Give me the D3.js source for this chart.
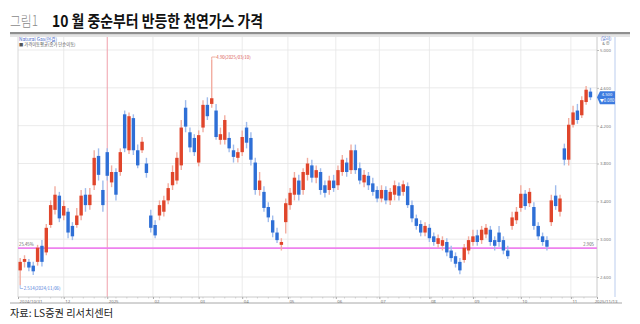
<!DOCTYPE html>
<html><head><meta charset="utf-8">
<script src="https://cdn.jsdelivr.net/npm/d3@7"></script>
<style>body{margin:0;background:#fff;}svg{display:block;font-family:"Noto Sans CJK KR","Noto Sans",sans-serif;}</style>
</head><body><svg id="c" width="640" height="324"></svg>
<script>
// Natural gas candles (one candle per 2 trading days, from 2024/10/31)
const opens=[2.67,2.76,2.76,2.72,2.76,2.93,2.86,3.15,3.31,3.46,
3.25,3.29,3.14,3.15,3.25,3.47,3.36,3.57,3.88,3.52,
3.92,3.60,3.71,3.71,4.32,3.94,4.28,3.94,3.94,3.80,
3.25,3.15,3.25,3.29,3.41,3.57,3.62,3.78,4.39,4.13,
4.07,3.81,4.18,4.42,4.43,4.36,4.05,4.05,4.07,3.94,
3.86,3.92,4.18,4.07,3.81,3.52,3.50,3.34,3.20,3.07,
2.94,3.18,3.36,3.47,3.62,3.52,3.68,3.78,3.65,3.71,
3.57,3.52,3.62,3.57,3.71,3.81,3.73,3.94,3.75,3.60,
3.67,3.59,3.52,3.43,3.52,3.41,3.47,3.56,3.50,3.56,
3.36,3.22,3.16,3.07,3.12,3.03,2.95,2.93,2.97,2.88,
2.82,2.76,2.78,2.88,2.97,3.04,2.99,3.05,3.10,2.99,
3.07,2.99,2.88,3.14,3.20,3.33,3.48,3.38,3.34,3.14,
3.03,2.99,3.18,3.46,3.29,3.96,3.84,4.21,4.36,4.31,
4.45,4.56];
const closes=[2.76,2.79,2.70,2.66,2.91,2.76,3.12,3.36,3.47,3.22,
3.35,3.07,3.03,3.25,3.46,3.36,3.47,3.86,3.68,3.36,
3.67,3.71,3.47,3.92,3.96,4.30,3.94,3.78,4.03,3.70,
3.12,3.04,3.36,3.41,3.54,3.71,3.86,4.18,4.19,3.97,
3.92,4.10,4.42,4.30,4.49,4.08,4.11,4.26,3.96,3.87,
3.92,4.08,4.02,3.84,3.52,3.62,3.33,3.23,3.07,2.99,
2.97,3.38,3.49,3.65,3.47,3.71,3.80,3.65,3.73,3.52,
3.49,3.62,3.54,3.73,3.84,3.71,3.94,3.73,3.62,3.68,
3.57,3.50,3.43,3.52,3.41,3.50,3.57,3.46,3.58,3.36,
3.22,3.14,3.07,3.14,3.01,2.97,3.01,2.99,2.86,2.80,
2.74,2.67,2.91,2.99,3.03,2.97,3.10,3.12,2.97,2.93,
2.97,2.88,2.82,3.23,3.29,3.48,3.35,3.50,3.14,3.03,
2.97,2.92,3.41,3.35,3.43,3.84,4.21,4.34,4.26,4.47,
4.58,4.50];
const highs=[2.80,2.83,2.79,2.76,2.94,2.99,3.16,3.41,3.56,3.50,
3.41,3.33,3.18,3.33,3.52,3.54,3.54,3.94,3.96,3.62,
3.96,3.78,3.75,3.96,4.36,4.34,4.32,4.00,4.08,3.86,
3.31,3.20,3.41,3.46,3.59,3.78,3.92,4.26,4.47,4.18,
4.11,4.15,4.47,4.50,4.90,4.43,4.18,4.31,4.13,4.00,
3.96,4.15,4.24,4.13,3.86,3.71,3.56,3.39,3.25,3.12,
3.01,3.43,3.54,3.71,3.68,3.75,3.86,3.84,3.78,3.75,
3.62,3.67,3.68,3.78,3.89,3.86,4.00,4.00,3.81,3.73,
3.71,3.65,3.56,3.57,3.56,3.54,3.62,3.60,3.62,3.60,
3.41,3.26,3.20,3.18,3.16,3.07,3.05,3.03,3.01,2.93,
2.86,2.80,2.95,3.03,3.10,3.10,3.14,3.16,3.14,3.03,
3.14,3.03,2.93,3.29,3.34,3.57,3.52,3.54,3.39,3.18,
3.07,3.03,3.47,3.57,3.47,4.01,4.28,4.41,4.43,4.51,
4.62,4.60];
const lows=[2.514,2.70,2.66,2.62,2.72,2.71,2.83,3.12,3.26,3.18,
3.20,3.01,2.99,3.12,3.20,3.29,3.31,3.52,3.62,3.29,
3.62,3.55,3.41,3.67,3.92,3.90,3.89,3.75,3.91,3.65,
3.07,3.01,3.20,3.24,3.37,3.52,3.58,3.73,4.13,3.92,
3.88,3.77,4.13,4.26,4.39,4.05,4.00,4.00,3.92,3.81,
3.81,3.88,3.96,3.78,3.47,3.46,3.29,3.18,3.02,2.96,
2.88,3.06,3.31,3.41,3.41,3.47,3.62,3.60,3.59,3.47,
3.44,3.47,3.50,3.52,3.67,3.66,3.69,3.69,3.58,3.55,
3.52,3.46,3.39,3.39,3.37,3.36,3.41,3.41,3.46,3.33,
3.18,3.10,3.03,3.03,2.97,2.93,2.91,2.88,2.82,2.76,
2.70,2.63,2.75,2.84,2.93,2.93,2.95,3.01,2.93,2.88,
2.92,2.84,2.79,3.10,3.16,3.29,3.31,3.34,3.10,2.99,
2.93,2.88,3.14,3.31,3.24,3.78,3.78,4.18,4.22,4.28,
4.42,4.47];
const dayStep=2;
const tickDays=[-1,20,40,61,82,102,123,145,165,188,208,230,253,265];
const tickLabels=["2024/10/31","12","2025","02","03","04","05","06","07","08","09","10","11","2025/11/13"];
const yTicks=[2.6,3.0,3.4,3.8,4.2,4.6,5.0];
const refLevel=2.905, refPct="25.45%";
const highIdx=44, highLabel="4.90(2025/03/10)";
const lowIdx=0, lowLabel="2.514(2024/11/06)";

const svg=d3.select("#c");
const L=18,R=597,T=37,B=297;
const x=d3.scaleLinear().domain([-1,265]).range([L,R]);
const y=d3.scaleLinear().domain([2.6,5.0]).range([277,50]);
const RED="#e0452b",BLUE="#2e6fd6",RED2="#f2ada0",BLUE2="#a0bcec";

// title
svg.append("text").attr("x",10).attr("y",26).attr("font-size",14).attr("font-weight",300)
 .attr("fill","#8a8a8a").attr("textLength",28).attr("lengthAdjust","spacingAndGlyphs").text("그림1");
svg.append("text").attr("x",52).attr("y",27).attr("font-size",16).attr("font-weight",700)
 .attr("fill","#111").attr("textLength",211).attr("lengthAdjust","spacingAndGlyphs").text("10 월 중순부터 반등한 천연가스 가격");
svg.append("rect").attr("x",10).attr("y",32).attr("width",620).attr("height",2.5).attr("fill","#8f8f8f");
svg.append("rect").attr("x",10).attr("y",34.5).attr("width",620).attr("height",2.5).attr("fill","#e4e4e4");

// grid
const g=svg.append("g");
g.selectAll(".hg").data(yTicks).join("line").attr("x1",L).attr("x2",R)
 .attr("y1",d=>y(d)).attr("y2",d=>y(d)).attr("stroke","#e6e6e6").attr("stroke-width",0.8);
g.selectAll(".vg").data(tickDays.slice(1,-1)).join("line").attr("y1",T).attr("y2",B)
 .attr("x1",d=>x(d)).attr("x2",d=>x(d)).attr("stroke",(d,i)=>i===1?"#f0a0ac":"#e6e6e6").attr("stroke-width",(d,i)=>i===1?1:0.8);

// frame lines
svg.append("line").attr("x1",L).attr("x2",L).attr("y1",T).attr("y2",B).attr("stroke","#cfcfcf").attr("stroke-width",0.8);
svg.append("line").attr("x1",R).attr("x2",R).attr("y1",T).attr("y2",B).attr("stroke","#bdbdbd").attr("stroke-width",0.8);
svg.append("line").attr("x1",615).attr("x2",615).attr("y1",T).attr("y2",B).attr("stroke","#a9c0ea").attr("stroke-width",0.8);
svg.append("line").attr("x1",L).attr("x2",R).attr("y1",B).attr("y2",B).attr("stroke","#bdbdbd").attr("stroke-width",0.8);
svg.append("line").attr("x1",10).attr("x2",622).attr("y1",303).attr("y2",303).attr("stroke","#a8a8a8").attr("stroke-width",1);

// header
svg.append("text").attr("x",19).attr("y",40.8).attr("font-size",4.8).attr("fill","#3f67c9").text("Natural Gas(연결)");
svg.append("text").attr("x",19).attr("y",45.8).attr("font-size",4.3).attr("fill","#555").text("■ 가격이동평균(종가 단순이동)");
svg.append("text").attr("x",606).attr("y",40).attr("font-size",4.3).attr("fill","#3f67c9").attr("text-anchor","middle").text("(달러)");
svg.append("text").attr("x",606).attr("y",45).attr("font-size",4).attr("fill","#666").attr("text-anchor","middle").text("& ⊕");

// reference level
svg.append("line").attr("x1",L).attr("x2",R).attr("y1",y(refLevel)).attr("y2",y(refLevel)).attr("stroke","#ee82ee").attr("stroke-width",1.6);
svg.append("text").attr("x",19).attr("y",y(refLevel)-2.5).attr("font-size",4.3).attr("fill","#666").text(refPct);
svg.append("text").attr("x",594).attr("y",y(refLevel)-2).attr("font-size",4.3).attr("fill","#666").attr("text-anchor","end").text(d3.format(".3f")(refLevel));

// candles
const data=opens.map((o,i)=>({i,o,c:closes[i],h:highs[i],l:lows[i],d:i*dayStep}));
const cg=svg.append("g");
cg.selectAll(".w").data(data).join("line").attr("x1",d=>x(d.d)).attr("x2",d=>x(d.d))
 .attr("y1",d=>y(d.h)).attr("y2",d=>y(d.l)).attr("stroke",d=>d.c>=d.o?RED2:BLUE2).attr("stroke-width",1.4);
cg.selectAll(".b").data(data).join("rect").attr("x",d=>x(d.d)-1.7).attr("width",3.4)
 .attr("y",d=>y(Math.max(d.o,d.c))).attr("height",d=>Math.max(1,Math.abs(y(d.o)-y(d.c))))
 .attr("fill",d=>d.c>=d.o?RED:BLUE);

// high / low annotations
const hx=x(data[highIdx].d);
svg.append("path").attr("d",`M${hx},${y(highs[highIdx])}V57H${hx+4}`).attr("fill","none").attr("stroke","#eb9a8c").attr("stroke-width",0.8);
svg.append("text").attr("x",hx+4.5).attr("y",58.6).attr("font-size",4.4).attr("fill","#d9534f").text(highLabel);
const lx=x(data[lowIdx].d);
svg.append("path").attr("d",`M${lx},${y(lows[lowIdx])}V288.5H${lx+3}`).attr("fill","none").attr("stroke","#8fb0e8").attr("stroke-width",0.8);
svg.append("text").attr("x",lx+3.5).attr("y",290).attr("font-size",4.4).attr("fill","#4a78d8").text(lowLabel);

// right axis
const ya=svg.append("g").attr("transform",`translate(${R},0)`)
 .call(d3.axisRight(y).tickValues(yTicks).tickSize(2).tickFormat(d3.format(".3f")));
ya.select(".domain").remove();
ya.selectAll("line").attr("stroke","#bbb");
ya.selectAll("text").attr("font-size",4.3).attr("fill","#777").attr("font-family","Noto Sans").attr("x",3);

// bottom axis
const xa=svg.append("g").attr("transform",`translate(0,${B})`)
 .call(d3.axisBottom(x).tickValues(tickDays).tickSize(2).tickFormat((d,i)=>tickLabels[i]));
xa.select(".domain").remove();
xa.selectAll("line").attr("stroke","#aaa");
xa.selectAll("text").attr("font-size",4.3).attr("fill","#777").attr("font-family","Noto Sans")
 .attr("text-anchor",(d,i)=>i===tickDays.length-1?"end":"start").attr("dx",(d,i)=>i===tickDays.length-1?20:1).attr("y",2.5).attr("dy","0.71em");
svg.append("g").selectAll("line").data(d3.range(4,262,5)).join("line")
 .attr("x1",d=>x(d)).attr("x2",d=>x(d)).attr("y1",B).attr("y2",B+1.5).attr("stroke","#bbb").attr("stroke-width",0.6);

// current price tag
const last=closes[closes.length-1], prev=closes[closes.length-2];
const ty=y(last);
svg.append("path").attr("d",`M${R},${ty}L${R+3},${ty-6}H615V${ty+7}H${R+3}Z`).attr("fill","#3d7be0");
svg.append("text").attr("x",607).attr("y",ty-1).attr("font-size",4.2).attr("fill","#fff").attr("text-anchor","middle").text(d3.format(".3f")(last));
svg.append("text").attr("x",607).attr("y",ty+4.5).attr("font-size",4.2).attr("fill","#fff").attr("text-anchor","middle").text("▼"+d3.format(".3f")(Math.abs(last-prev)));

// source
svg.append("text").attr("x",10).attr("y",317).attr("font-size",10.5).attr("fill","#222")
 .attr("textLength",103).attr("lengthAdjust","spacingAndGlyphs").text("자료: LS증권 리서치센터");
</script></body></html>
